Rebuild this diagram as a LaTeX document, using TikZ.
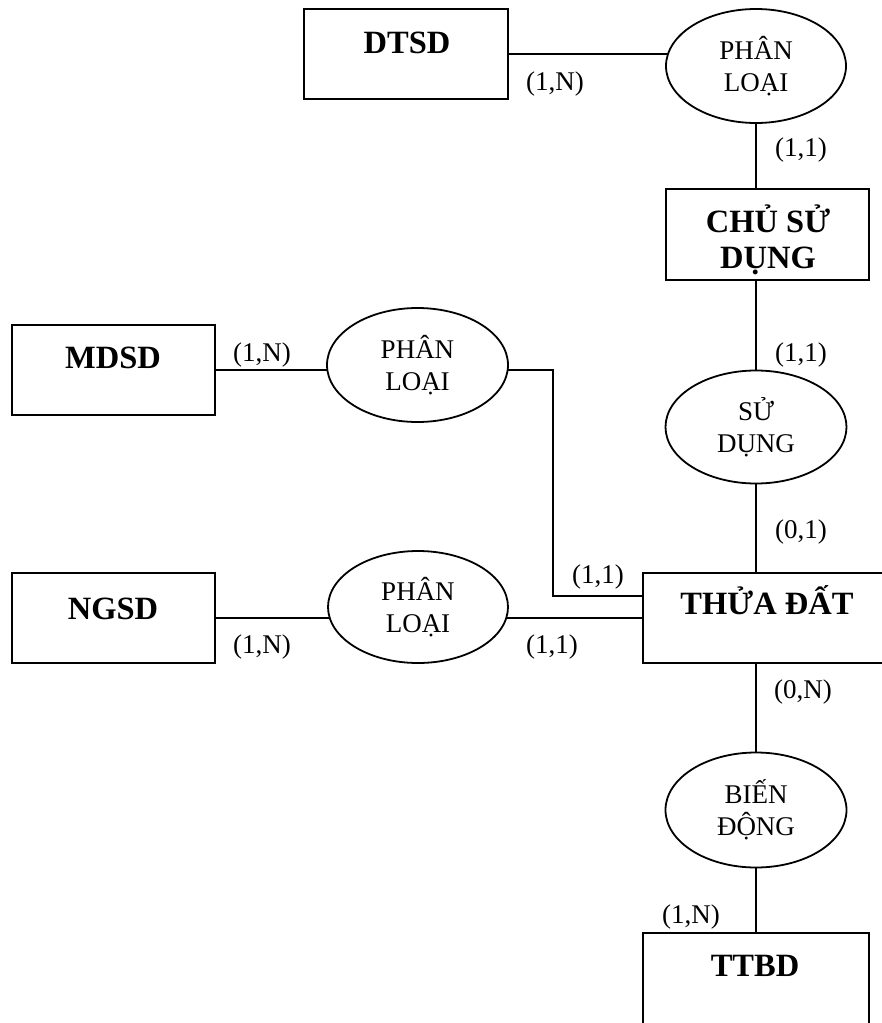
\documentclass[tikz,border=0pt]{standalone}
\usepackage{fontspec}
\setmainfont{Liberation Serif}
\usetikzlibrary{shapes.geometric,backgrounds}

\tikzset{
  entity/.style={draw, rectangle, line width=1.8pt, fill=white, inner sep=0pt},
  enttext/.style={font=\fontsize{32.5}{36}\selectfont\bfseries, align=center, inner sep=0pt},
  relation/.style={draw, ellipse, line width=1.8pt, fill=white, inner sep=0pt,
    font=\fontsize{27}{32}\selectfont, align=center},
  card/.style={font=\fontsize{27}{32}\selectfont, inner sep=0pt, anchor=base},
  link/.style={line width=1.8pt}
}

\begin{document}
\begin{tikzpicture}[x=1pt, y=-1pt]
\useasboundingbox (0,0) rectangle (882,1023);
\clip (0,0) rectangle (882,1023);

% entities
\node[entity, minimum width=204pt, minimum height=90pt] (dtsd) at (406,54) {};
\node[enttext, anchor=base] (dtsdT) at (407,53) {DTSD};

\node[entity, minimum width=203pt, minimum height=91pt] (csd) at (767.5,234.5) {};
\node[enttext] (csdT) at (768,240) {CHỦ SỬ\\DỤNG};

\node[entity, minimum width=203pt, minimum height=90pt] (mdsd) at (113.5,370) {};
\node[enttext, anchor=base] (mdsdT) at (113,368) {MDSD};

\node[entity, minimum width=203pt, minimum height=90pt] (ngsd) at (113.5,618) {};
\node[enttext, anchor=base] (ngsdT) at (113,619) {NGSD};

\node[entity, minimum width=248pt, minimum height=90pt] (td) at (767,618) {};
\node[enttext, anchor=base] (tdT) at (767,614) {THỬA ĐẤT};

\node[entity, minimum width=226pt, minimum height=100pt] (ttbd) at (756,983) {};
\node[enttext, anchor=base] (ttbdT) at (755,976) {TTBD};

% relationships
\node[relation, minimum width=180pt, minimum height=114pt] (pl1) at (756,66) {PHÂN\\LOẠI};
\node[relation, minimum width=181pt, minimum height=113pt] (sd) at (756,427) {SỬ\\DỤNG};
\node[relation, minimum width=181pt, minimum height=115pt] (bd) at (756,810) {BIẾN\\ĐỘNG};
\node[relation, minimum width=181pt, minimum height=114pt] (pl2) at (417.5,365) {PHÂN\\LOẠI};
\node[relation, minimum width=180pt, minimum height=112pt] (pl3) at (418,607) {PHÂN\\LOẠI};

\coordinate (elbow) at (553,596);

% connectors, drawn behind the shapes
\begin{pgfonlayer}{background}
\draw[link] (dtsd.east) -- (dtsd.east -| pl1.center);
\draw[link] (pl1.south) -- (pl1.south |- csd.north);
\draw[link] (sd.north) -- (sd.north |- csd.south);
\draw[link] (sd.south) -- (sd.south |- td.north);
\draw[link] (bd.north) -- (bd.north |- td.south);
\draw[link] (bd.south) -- (bd.south |- ttbd.north);
\draw[link] (mdsd.east) -- (mdsd.east -| pl2.center);
\draw[link] (pl2.center |- mdsd.east) -| (elbow) -- (elbow -| td.west);
\draw[link] (ngsd.east) -- (ngsd.east -| td.west);
\end{pgfonlayer}

% cardinalities
\node[card] (c1) at (555,90) {(1,N)};
\node[card] (c2) at (801,156) {(1,1)};
\node[card] (c3) at (801,361) {(1,1)};
\node[card] (c4) at (801,538) {(0,1)};
\node[card] (c5) at (262,361) {(1,N)};
\node[card] (c6) at (598,583) {(1,1)};
\node[card] (c7) at (262,653) {(1,N)};
\node[card] (c8) at (552,653) {(1,1)};
\node[card] (c9) at (803,698) {(0,N)};
\node[card] (c10) at (691,923) {(1,N)};
\end{tikzpicture}
\end{document}
